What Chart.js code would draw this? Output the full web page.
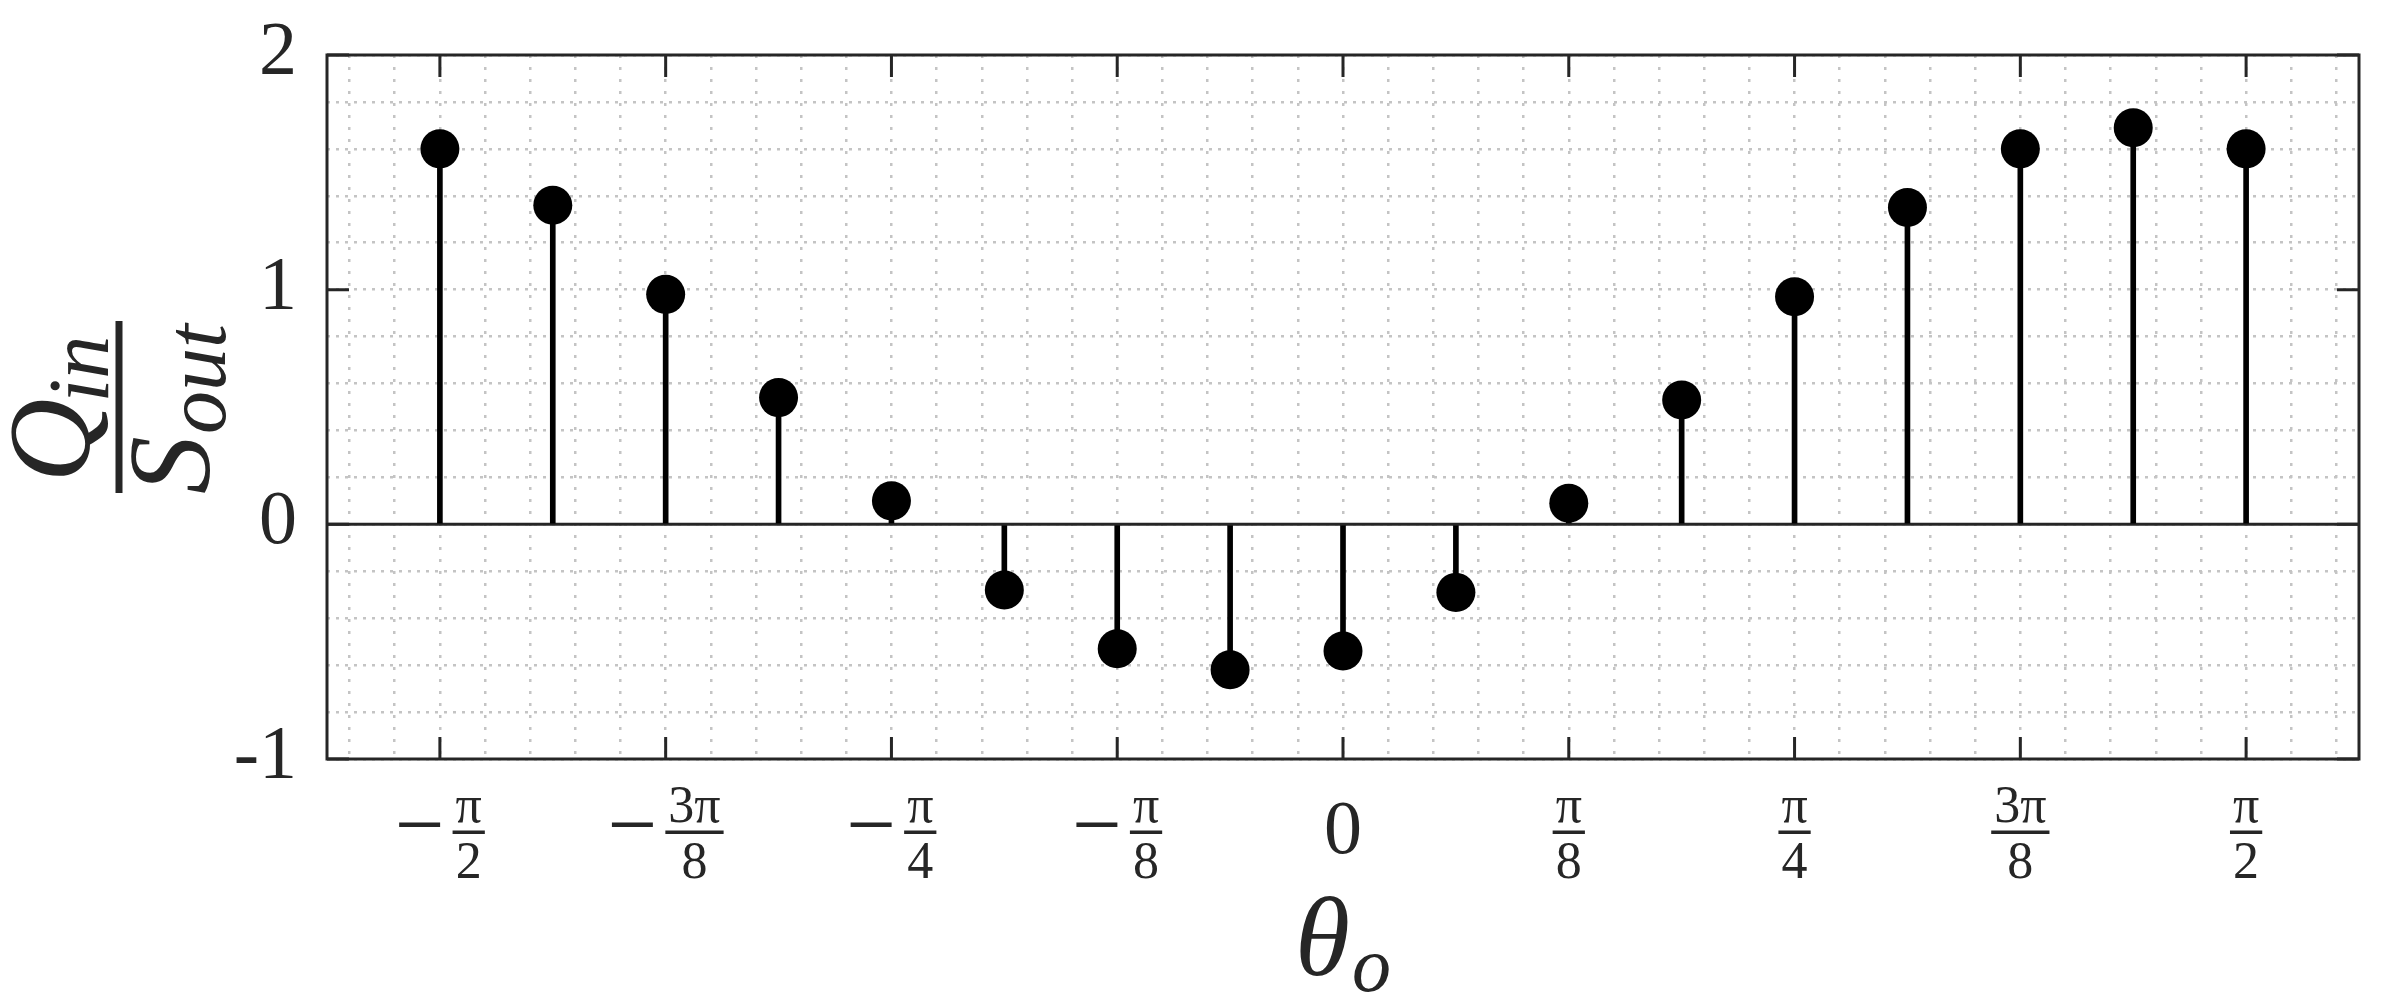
<!DOCTYPE html>
<html>
<head>
<meta charset="utf-8">
<script src="https://cdn.jsdelivr.net/npm/chart.js@4/dist/chart.umd.min.js"></script>
<style>
  html, body { margin: 0; padding: 0; background: #fff; }
  canvas { display: block; }
</style>
</head>
<body>
<canvas id="stemChart" width="2388" height="1006"></canvas>
<script>
// theta_o positions, in units of pi/16
const thetaSixteenths = [-8, -7, -6, -5, -4, -3, -2, -1, 0, 1, 2, 3, 4, 5, 6, 7, 8];
// Q_in / S_out
const qRatio = [1.60, 1.36, 0.98, 0.54, 0.10, -0.28, -0.53, -0.62, -0.54, -0.29, 0.09, 0.53, 0.97, 1.35, 1.60, 1.69, 1.60];

// x tick positions in units of pi/8, and their labels
const xTickEighths = [-4, -3, -2, -1, 0, 1, 2, 3, 4];
const xTickLabels = ['−π/2', '−3π/8', '−π/4', '−π/8', '0', 'π/8', 'π/4', '3π/8', 'π/2'];
const yTickValues = [-1, 0, 1, 2];
const yTickLabels = ['-1', '0', '1', '2'];

const X_MIN = -9 * Math.PI / 16;
const X_MAX = 9 * Math.PI / 16;
const Y_MIN = -1;
const Y_MAX = 2;

// grid: 5 minor steps per major step on both axes
const xGrid = [];
for (let i = -22; i <= 22; i++) xGrid.push(i * Math.PI / 40);
const yGrid = [];
for (let i = -5; i <= 10; i++) yGrid.push(i / 5);

const points = thetaSixteenths.map((k, i) => ({ x: k * Math.PI / 16, y: qRatio[i] }));

const SERIF = '"Liberation Serif", "DejaVu Serif", serif';
const INK = '#262626';

function drawXLabel(ctx, text, x) {
  const neg = text.startsWith('−');
  const body = neg ? text.slice(1) : text;
  ctx.textBaseline = 'alphabetic';
  if (!body.includes('/')) {
    ctx.font = `76px ${SERIF}`;
    ctx.textAlign = 'center';
    ctx.fillText(body, x, 853);
    return;
  }
  const [num, den] = body.split('/');
  ctx.font = `52px ${SERIF}`;
  const barW = Math.max(ctx.measureText(num).width, ctx.measureText(den).width) + 6;
  ctx.font = `88px ${SERIF}`;
  const wMinus = neg ? ctx.measureText('−').width : 0;
  const gap = neg ? 8 : 0;
  const left = x - (wMinus + gap + barW) / 2;
  if (neg) {
    ctx.textAlign = 'left';
    ctx.fillText('−', left, 854);
  }
  const cx = left + wMinus + gap + barW / 2;
  ctx.fillRect(cx - barW / 2, 830.5, barW, 3.5);
  ctx.font = `52px ${SERIF}`;
  ctx.textAlign = 'center';
  ctx.fillText(num, cx, 822);
  ctx.fillText(den, cx, 878);
}

const matlabAxes = {
  id: 'matlabAxes',
  afterDraw(chart) {
    const { ctx, chartArea: a, scales: { x, y } } = chart;
    ctx.save();
    ctx.strokeStyle = INK;
    ctx.fillStyle = INK;
    ctx.lineWidth = 3;
    ctx.setLineDash([]);

    // inward tick marks
    const tl = 22;
    ctx.beginPath();
    xTickEighths.forEach(k => {
      const px = x.getPixelForValue(k * Math.PI / 8);
      ctx.moveTo(px, a.bottom); ctx.lineTo(px, a.bottom - tl);
      ctx.moveTo(px, a.top); ctx.lineTo(px, a.top + tl);
    });
    yTickValues.forEach(v => {
      const py = y.getPixelForValue(v);
      ctx.moveTo(a.left, py); ctx.lineTo(a.left + tl, py);
      ctx.moveTo(a.right, py); ctx.lineTo(a.right - tl, py);
    });
    ctx.stroke();

    // box
    ctx.strokeRect(a.left, a.top, a.right - a.left, a.bottom - a.top);

    // x tick labels
    xTickEighths.forEach((k, i) => drawXLabel(ctx, xTickLabels[i], x.getPixelForValue(k * Math.PI / 8)));

    // y tick labels
    ctx.font = `76px ${SERIF}`;
    ctx.textAlign = 'right';
    ctx.textBaseline = 'alphabetic';
    yTickValues.forEach((v, i) => ctx.fillText(yTickLabels[i], a.left - 30, y.getPixelForValue(v) + 19));

    // x title: theta_o
    ctx.font = `italic 112px ${SERIF}`;
    const wTheta = ctx.measureText('θ').width;
    ctx.font = `italic 78px ${SERIF}`;
    const wSub = ctx.measureText('o').width;
    const tx = (a.left + a.right) / 2 - (wTheta + 2 + wSub) / 2;
    ctx.textAlign = 'left';
    ctx.font = `italic 112px ${SERIF}`;
    ctx.fillText('θ', tx, 975);
    ctx.font = `italic 78px ${SERIF}`;
    ctx.fillText('o', tx + wTheta + 2, 991);

    // y title: Q_in / S_out, rotated
    ctx.translate(119, 407);
    ctx.rotate(-Math.PI / 2);
    ctx.fillRect(-86, -3.5, 172, 7);
    const big = `italic 116px ${SERIF}`;
    const small = `italic 86px ${SERIF}`;
    ctx.font = big;
    const wQ = ctx.measureText('Q').width;
    ctx.font = small;
    const wIn = ctx.measureText('in').width;
    let sx = -2 - (wQ - 4 + wIn) / 2;
    ctx.font = big;
    ctx.fillText('Q', sx, -30);
    ctx.font = small;
    ctx.fillText('in', sx + wQ - 4, -11);
    ctx.font = big;
    const wS = ctx.measureText('S').width;
    ctx.font = small;
    const wOut = ctx.measureText('out').width;
    sx = -2 - (wS + 2 + wOut) / 2;
    ctx.font = big;
    ctx.fillText('S', sx, 90);
    ctx.font = small;
    ctx.fillText('out', sx + wS + 2, 106);
    ctx.restore();
  }
};

new Chart(document.getElementById('stemChart'), {
  type: 'scatter',
  data: {
    datasets: [
      {
        type: 'scatter',
        data: points,
        backgroundColor: '#000',
        borderWidth: 0,
        pointRadius: 19.5,
        order: 0
      },
      {
        type: 'bar',
        data: points,
        backgroundColor: '#000',
        barThickness: 5,
        order: 1
      },
      {
        type: 'line',
        data: [{ x: X_MIN, y: 0 }, { x: X_MAX, y: 0 }],
        borderColor: INK,
        borderWidth: 3,
        pointRadius: 0,
        order: 2
      }
    ]
  },
  options: {
    responsive: false,
    devicePixelRatio: 1,
    animation: false,
    layout: { padding: { left: 327, top: 55, right: 29, bottom: 247 } },
    plugins: { legend: { display: false }, tooltip: { enabled: false } },
    scales: {
      x: {
        type: 'linear',
        min: X_MIN,
        max: X_MAX,
        offset: false,
        afterBuildTicks: s => { s.ticks = xGrid.map(v => ({ value: v })); },
        ticks: { display: false },
        grid: { color: '#c4c4c4', lineWidth: 2.5, drawTicks: false, offset: false },
        border: { display: false, dash: [3, 9] }
      },
      y: {
        type: 'linear',
        min: Y_MIN,
        max: Y_MAX,
        afterBuildTicks: s => { s.ticks = yGrid.map(v => ({ value: v })); },
        ticks: { display: false },
        grid: { color: '#c4c4c4', lineWidth: 2.5, drawTicks: false },
        border: { display: false, dash: [3, 6] }
      }
    }
  },
  plugins: [matlabAxes]
});
</script>
</body>
</html>
